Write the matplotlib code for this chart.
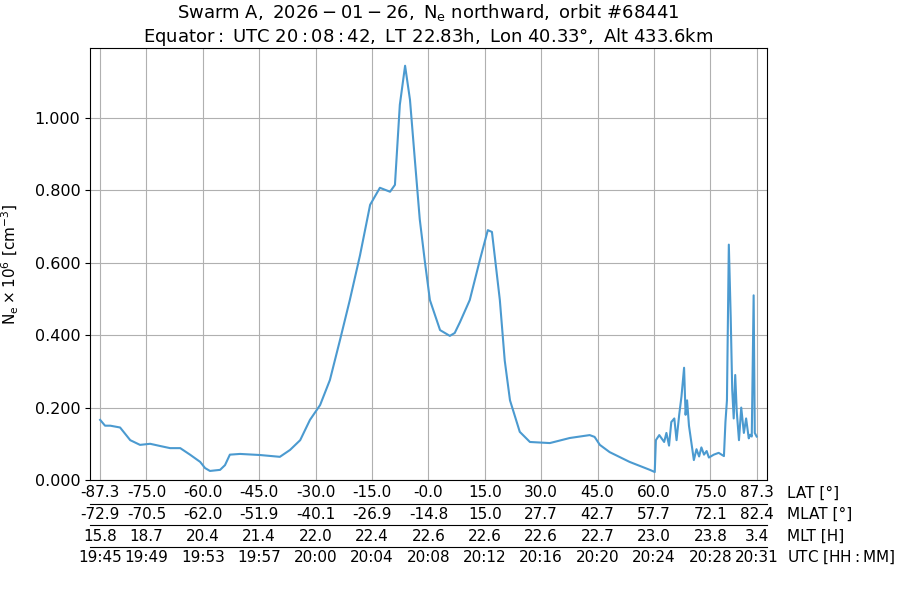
import numpy as np
import matplotlib.pyplot as plt

# Approximate Ne profile (lat in deg, Ne in 1e6 cm^-3)
lat = [-87.3, -86.0, -84.6, -82.0, -79.3, -76.7, -74.0, -71.4, -68.7, -66.0,
       -63.4, -60.7, -59.4, -58.1, -55.4, -54.1, -52.8, -50.1, -44.8, -39.5,
       -36.8, -34.1, -31.5, -28.8, -26.2, -23.5, -20.9, -18.2, -15.5, -12.9,
       -10.2, -8.9, -7.6, -6.2, -4.9, -3.6, -2.3, -0.9, 0.4, 3.1,
       5.7, 7.0, 8.4, 11.0, 13.7, 15.8, 16.9, 19.0, 20.3, 21.7,
       24.3, 27.0, 32.3, 37.6, 42.9, 44.2, 45.6, 48.2, 53.5, 58.9,
       60.2, 60.5, 61.4, 62.7, 63.3, 64.0, 64.6, 65.4, 66.0, 66.7, 67.3,
       68.0, 68.4, 68.8, 69.3, 70.6, 71.3, 72.0, 72.6, 73.3, 74.0, 74.6,
       75.9, 77.2, 78.6, 79.0, 79.4, 79.9, 80.4, 80.8, 81.2, 81.6, 82.0,
       82.6, 83.2, 83.9, 84.5, 85.2, 85.6, 86.0, 86.5, 86.8, 87.3]
ne = [0.166, 0.150, 0.150, 0.145, 0.110, 0.097, 0.100, 0.094, 0.088, 0.088,
      0.070, 0.050, 0.033, 0.025, 0.028, 0.041, 0.070, 0.072, 0.069, 0.064,
      0.083, 0.110, 0.166, 0.207, 0.276, 0.387, 0.497, 0.620, 0.760, 0.807,
      0.796, 0.815, 1.036, 1.144, 1.050, 0.884, 0.720, 0.600, 0.497, 0.414,
      0.398, 0.406, 0.436, 0.497, 0.608, 0.690, 0.685, 0.497, 0.330, 0.220,
      0.133, 0.105, 0.102, 0.116, 0.124, 0.119, 0.097, 0.077, 0.050, 0.028,
      0.022, 0.110, 0.124, 0.105, 0.130, 0.095, 0.160, 0.170, 0.110, 0.180, 0.230,
      0.310, 0.180, 0.220, 0.150, 0.055, 0.085, 0.065, 0.090, 0.070, 0.080, 0.062,
      0.070, 0.075, 0.066, 0.160, 0.220, 0.650, 0.450, 0.250, 0.170, 0.290, 0.190,
      0.110, 0.200, 0.130, 0.170, 0.115, 0.125, 0.120, 0.510, 0.130, 0.120]

lat_ticks = [-87.3, -75.0, -60.0, -45.0, -30.0, -15.0, -0.0, 15.0, 30.0, 45.0, 60.0, 75.0, 87.3]
mlat = ["-72.9", "-70.5", "-62.0", "-51.9", "-40.1", "-26.9", "-14.8", "15.0", "27.7", "42.7", "57.7", "72.1", "82.4"]
mlt = ["15.8", "18.7", "20.4", "21.4", "22.0", "22.4", "22.6", "22.6", "22.6", "22.7", "23.0", "23.8", "3.4"]
utc = ["19:45", "19:49", "19:53", "19:57", "20:00", "20:04", "20:08", "20:12", "20:16", "20:20", "20:24", "20:28", "20:31"]
row_names = ["LAT [°]", "MLAT [°]", "MLT [H]", r"UTC $\mathrm{[HH:MM]}$"]

fig = plt.figure(figsize=(9, 6), dpi=100)
ax = fig.add_axes([0.1, 0.2, 0.752, 0.72])
ax.plot(lat, ne, color="#4b9ad0", lw=1.5)
ax.set_xlim(-90, 90)
ax.set_ylim(0, 1.193)
ax.set_yticks([0, 0.2, 0.4, 0.6, 0.8, 1.0])
ax.set_yticklabels([f"{v:.3f}" for v in [0, 0.2, 0.4, 0.6, 0.8, 1.0]], fontsize=11.5)
ax.set_xticks(lat_ticks)
ax.set_xticklabels([])
ax.tick_params(axis="x", length=0)
ax.grid(True, color="#b0b0b0", lw=0.8)
ax.set_ylabel(r"$\mathrm{N_e} \times 10^6\ [\mathrm{cm^{-3}}]$", fontsize=11, labelpad=10)
ax.set_title(r"$\mathrm{Swarm\ A,\ 2026-01-26,\ N_e\ northward,\ orbit\ \#68441}$" "\n"
             r"$\mathrm{Equator:\ UTC\ 20:08:42,\ LT\ 22.83h,\ Lon\ 40.33°,\ Alt\ 433.6km}$",
             fontsize=13, pad=4)

rows = [[f"{v:.1f}" for v in lat_ticks], mlat, mlt, utc]
trans = ax.get_xaxis_transform()
for i, labels in enumerate(rows):
    y = -0.03 - i * 0.05
    for x, t in zip(lat_ticks, labels):
        ax.text(x, y, t, transform=trans, ha="center", va="center", fontsize=11)
    ax.text(1.03, y, row_names[i], transform=ax.transAxes, ha="left", va="center", fontsize=11)
    if i > 0:
        ax.plot([0, 1], [y + 0.025, y + 0.025], transform=ax.transAxes,
                color="black", lw=0.8, clip_on=False)

fig.savefig("out.png")
